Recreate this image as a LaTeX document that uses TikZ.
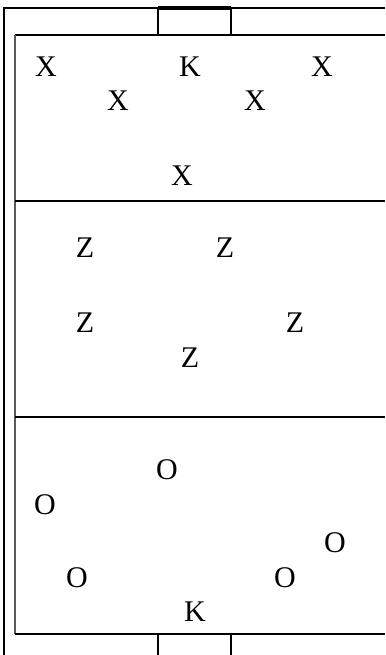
\documentclass[tikz,border=0pt]{standalone}
\usepackage{fontspec}
\setmainfont{Liberation Serif}
\begin{document}
\begin{tikzpicture}[x=1pt,y=-1pt,
  lbl/.style={font=\fontsize{30}{30}\selectfont, inner sep=0pt},
  thick line/.style={line width=2.2pt}]
\useasboundingbox (0,0) rectangle (385,655);
% outer frame
\coordinate (otl) at (4,8);
\coordinate (otr) at (385,8);
\coordinate (obl) at (4,655);
\draw[line width=2.5pt] (otr) -- (otl) -- (obl);
% inner field
\coordinate (itl) at (15,35);
\coordinate (itr) at (385,35);
\coordinate (ibl) at (15,634);
\coordinate (ibr) at (385,634);
\draw[thick line] (itr) -- (itl);
\draw[line width=2.2pt, black!65] (itl) -- (ibl);
\draw[thick line] (ibl) -- (ibr);
% dividers
\coordinate (d1l) at (15,201); \coordinate (d1r) at (385,201);
\coordinate (d2l) at (15,417); \coordinate (d2r) at (385,417);
\draw[thick line] (d1l) -- (d1r);
\draw[thick line] (d2l) -- (d2r);
% top goal
\coordinate (g1a) at (158,8); \coordinate (g1b) at (231,8);
\coordinate (g1c) at (158,35); \coordinate (g1d) at (231,35);
\draw[line width=1.4pt] (g1c) -- (g1a) (g1b) -- (g1d);
\draw[line width=4pt] (g1a) -- (g1b);
% bottom goal
\coordinate (g2a) at (158,634); \coordinate (g2b) at (231,634);
\coordinate (g2c) at (158,655); \coordinate (g2d) at (231,655);
\draw[line width=1.4pt] (g2a) -- (g2c) (g2b) -- (g2d);
% labels
\node[lbl] (x1) at (46,67) {X};
\node[lbl] (k1) at (190,67) {K};
\node[lbl] (x2) at (322,67) {X};
\node[lbl] (x3) at (118,101) {X};
\node[lbl] (x4) at (255,101) {X};
\node[lbl] (x5) at (182,176) {X};
\node[lbl] (z1) at (85,248) {Z};
\node[lbl] (z2) at (225,248) {Z};
\node[lbl] (z3) at (85,323) {Z};
\node[lbl] (z4) at (295,323) {Z};
\node[lbl] (z5) at (190,358) {Z};
\node[lbl] (o1) at (167,470) {O};
\node[lbl] (o2) at (45,505) {O};
\node[lbl] (o3) at (335,543) {O};
\node[lbl] (o4) at (77,578) {O};
\node[lbl] (o5) at (285,578) {O};
\node[lbl] (k2) at (195,612) {K};
\end{tikzpicture}
\end{document}
